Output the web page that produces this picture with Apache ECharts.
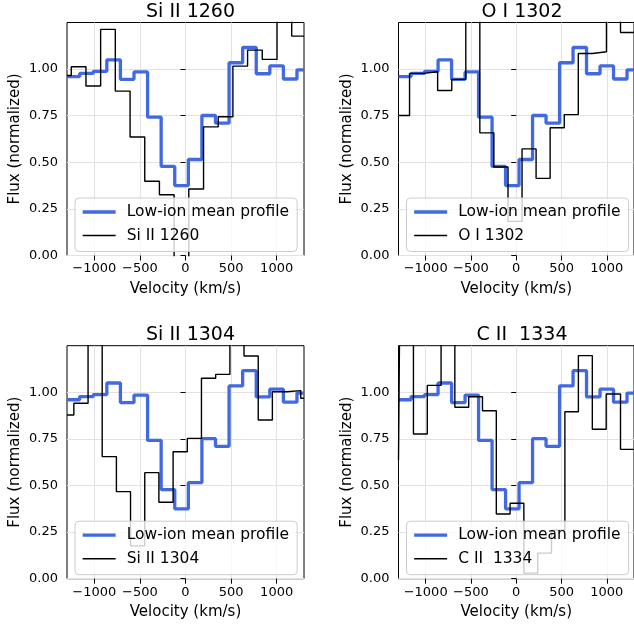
<!DOCTYPE html>
<html>
<head>
<meta charset="utf-8">
<title>Low-ion profiles</title>
<script src="https://cdn.jsdelivr.net/npm/echarts@6/dist/echarts.min.js"></script>
<style>
  html, body { margin: 0; padding: 0; background: #fff; }
  #chart { width: 634px; height: 626px; }
</style>
</head>
<body>
<div id="chart"></div>
<script>
// velocity bin edges (km/s) and normalized flux per bin
var meanEdges = [-1300, -1161, -1012, -863, -714, -565, -416, -267, -118, 31, 180, 329, 478, 627, 776, 925, 1074, 1223, 1300];
var meanFlux = [0.96, 0.977, 0.988, 1.05, 0.945, 0.985, 0.742, 0.478, 0.375, 0.515, 0.751, 0.71, 1.034, 1.116, 0.975, 1.017, 0.947, 0.996];

var si1260Edges = [-1300, -1253, -1092, -931, -770, -608, -447, -286, -125, 36, 198, 359, 520, 681, 842, 1004, 1165, 1300];
var si1260Flux = [0.966, 1.013, 0.909, 1.213, 0.882, 0.636, 0.398, 0.326, -0.1, 0.357, 0.69, 0.744, 1.016, 1.102, 1.052, 1.4, 1.177];

var o1302Edges = [-1300, -1178, -1023, -868, -712, -557, -402, -247, -91, 64, 219, 374, 530, 685, 840, 996, 1151, 1300];
var o1302Flux = [0.751, 0.977, 0.986, 0.885, 0.945, 1.4, 0.658, 0.475, 0.183, 0.572, 0.414, 0.685, 0.756, 1.084, 1.093, 1.4, 1.196];

var si1304Edges = [-1300, -1225, -1069, -914, -758, -603, -447, -292, -136, 20, 175, 331, 487, 642, 798, 953, 1109, 1264, 1300];
var si1304Flux = [0.878, 0.941, 1.4, 0.655, 0.467, 0.176, 0.569, 0.41, 0.681, 0.753, 1.075, 1.096, 1.4, 1.195, 0.851, 1.003, 1.009, 0.968];

var c1334Edges = [-1300, -1287, -1135, -982, -830, -678, -525, -373, -220, -68, 84, 237, 389, 537, 686, 840, 993, 1151, 1300];
var c1334Flux = [0.637, 1.4, 0.776, 1.037, 1.4, 0.92, 0.976, 0.901, 0.347, 0.405, 0.03, 0.137, 0.26, 0.896, 1.197, 0.802, 0.991, 0.694];

var panelTitles = ['Si II 1260', 'O I 1302', 'Si II 1304', 'C II  1334'];
var ionEdges = [si1260Edges, o1302Edges, si1304Edges, c1334Edges];
var ionFlux = [si1260Flux, o1302Flux, si1304Flux, c1334Flux];
var xTicks = [-1000, -500, 0, 500, 1000];
var yTicks = [0, 0.25, 0.5, 0.75, 1.0];
var meanName = 'Low-ion mean profile';

var FONT = 'DejaVu Sans';
var boxes = [
  {left: 67, top: 22.5},
  {left: 398.5, top: 22.5},
  {left: 67, top: 345.7},
  {left: 398.5, top: 345.7}
];
var W = 237, H = 233;
var BLUE = '#4169e1';

// bins -> points for step:'end'
function steps(edges, flux) {
  var pts = [];
  for (var i = 0; i < flux.length; i++) pts.push([edges[i], flux[i]]);
  pts.push([edges[edges.length - 1], flux[flux.length - 1]]);
  return pts;
}

var grid = [], xAxis = [], yAxis = [], series = [], title = [], legend = [];

for (var p = 0; p < 4; p++) {
  var b = boxes[p];
  grid.push({
    left: b.left, top: b.top, width: W, height: H,
    show: true, borderColor: '#000', borderWidth: 1, backgroundColor: 'transparent'
  });
  xAxis.push({
    type: 'value', gridIndex: p, min: -1300, max: 1300,
    name: 'Velocity (km/s)', nameLocation: 'middle', nameGap: 26,
    nameTextStyle: {fontFamily: FONT, fontSize: 15, color: '#000'},
    axisLine: {show: false},
    axisTick: {show: true, length: 5, customValues: xTicks, lineStyle: {color: '#000'}},
    axisLabel: {
      customValues: xTicks, margin: 7, fontFamily: FONT, fontSize: 13, color: '#000',
      formatter: function (v) { return v < 0 ? '\u2212' + Math.abs(v) : String(v); }
    },
    splitLine: {show: true, lineStyle: {color: '#e2e2e2', width: 1}}
  });
  yAxis.push({
    type: 'value', gridIndex: p, min: 0, max: 1.25,
    name: 'Flux (normalized)', nameLocation: 'middle', nameGap: 44,
    nameTextStyle: {fontFamily: FONT, fontSize: 15, color: '#000'},
    axisLine: {show: false},
    axisTick: {show: true, length: 5, customValues: yTicks, lineStyle: {color: '#000'}},
    axisLabel: {
      customValues: yTicks, margin: 9, fontFamily: FONT, fontSize: 13, color: '#000',
      formatter: function (v) { return v.toFixed(2); }
    },
    splitLine: {show: true, lineStyle: {color: '#e2e2e2', width: 1}}
  });
  title.push({
    text: panelTitles[p], left: b.left + W / 2, top: b.top - 25, textAlign: 'center',
    textStyle: {fontFamily: FONT, fontSize: 19, fontWeight: 'normal', color: '#000'}
  });
  series.push({
    name: meanName, type: 'line', xAxisIndex: p, yAxisIndex: p,
    data: steps(meanEdges, meanFlux), step: 'end', symbol: 'none', clip: true,
    lineStyle: {color: BLUE, width: 3.3}, itemStyle: {color: BLUE}
  });
  series.push({
    name: panelTitles[p], type: 'line', xAxisIndex: p, yAxisIndex: p,
    data: steps(ionEdges[p], ionFlux[p]), step: 'end', symbol: 'none', clip: true,
    lineStyle: {color: '#000', width: 1.4}, itemStyle: {color: '#000'}
  });
  legend.push({
    orient: 'vertical', left: b.left + 8, top: b.top + H - 57.5,
    data: [
      {name: meanName, lineStyle: {width: 3.3, color: BLUE}},
      {name: panelTitles[p], lineStyle: {width: 1.4, color: '#000'}}
    ],
    itemWidth: 33, itemHeight: 15, itemGap: 7.5,
    padding: [6, 8, 8, 6],
    backgroundColor: 'rgba(255,255,255,0.8)', borderColor: '#cccccc', borderWidth: 1, borderRadius: 4,
    itemStyle: {color: 'rgba(0,0,0,0)', borderWidth: 0},
    textStyle: {fontFamily: FONT, fontSize: 15.5, color: '#000', padding: [0, 0, 0, 6]},
    selectedMode: false
  });
}

var myChart = echarts.init(document.getElementById('chart'), null, {renderer: 'canvas'});
myChart.setOption({
  animation: false,
  backgroundColor: '#fff',
  title: title,
  grid: grid,
  xAxis: xAxis,
  yAxis: yAxis,
  legend: legend,
  series: series
});
</script>
</body>
</html>
